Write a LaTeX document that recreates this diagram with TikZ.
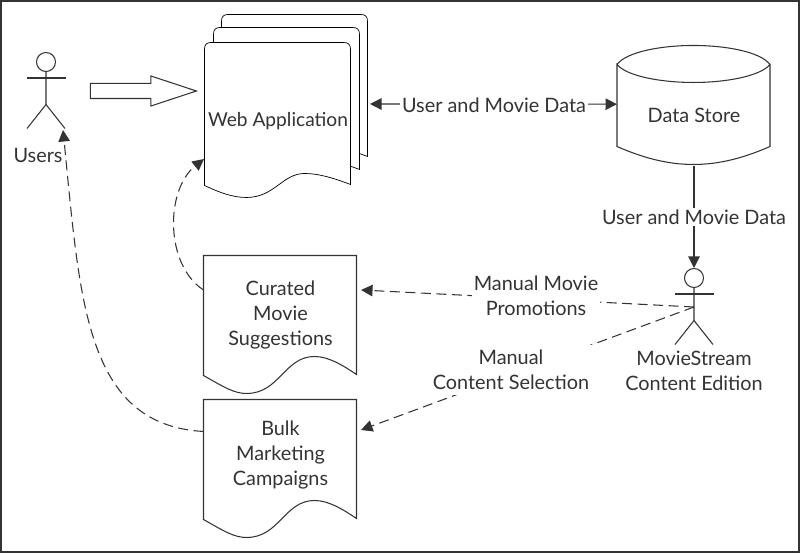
\documentclass[tikz,border=0pt]{standalone}
\usepackage{fontspec}
\setmainfont{Lato}
\usetikzlibrary{arrows.meta, shapes.arrows, backgrounds}
\definecolor{cink}{HTML}{333333}
\tikzset{
  every picture/.style={x=0.02cm, y=-0.02cm, line width=0.6pt, cink, font=\fontsize{11.3}{14.2}\selectfont},
  page/.style={align=center, text=cink, inner sep=0pt, minimum width=3.06cm},
  store/.style={align=center, text=cink, inner sep=0pt, minimum width=3.06cm, minimum height=2cm},
  actor/.style={draw=cink, circle, minimum size=0.38cm, inner sep=0pt},
  flow/.style={-{Triangle[length=0.23cm, width=0.23cm]}, draw=cink},
  dashflow/.style={flow, dash pattern=on 0.2cm off 0.11cm},
  note/.style={align=center, text=cink, fill=white, inner sep=1pt},
  enter/.style={draw=cink, fill=white, single arrow, single arrow head extend=0.15cm, single arrow tip angle=36.5, single arrow head indent=0pt, minimum height=2.12cm, minimum width=0.58cm, inner xsep=0pt, inner ysep=0.14cm},
}

\begin{document}
\begin{tikzpicture}
  \useasboundingbox (0,0) rectangle (800,553);
  \draw[line width=1pt] (1,1) rectangle (799,552);

  % documents
  \node[page, minimum width=2.92cm, minimum height=3.12cm, font=\fontsize{10.9}{14.2}\selectfont] (web) at (278,121) {Web Application};
  \node[page, minimum height=2.36cm] (curated) at (280.5,315) {Curated\\Movie\\Suggestions};
  \node[page, minimum height=2.2cm] (bulk) at (280.5,455) {Bulk\\Marketing\\Campaigns};
  \begin{scope}[on background layer]
    \foreach \dx/\dy in {17/-28, 9/-15, 0/0}
      \draw[fill=white, shift={(web.north west)}, shift={(\dx,\dy)}] (0,143) -- (0,7) .. controls (0,2) and (2,0) .. (7,0) -- (139,0) .. controls (144,0) and (146,2) .. (146,7) -- (146,142) .. controls (130,136) and (115,131) .. (100,131) .. controls (78,131) and (70,155) .. (42,155) .. controls (28,155) and (15,150) .. (0,143) -- cycle;
  \end{scope}
  \foreach \n in {curated, bulk}
    \draw[shift={(\n.north west)}] (0,0) -- (153,0) -- (153,119) .. controls (141,111) and (126,101) .. (111,101) .. controls (81,101) and (76,138) .. (43,138) .. controls (31,138) and (21,132) .. (0,120) -- cycle;

  % data store
  \node[store] (data) at (694,115) {Data Store};
  \draw[shift={(data.north west)}] (0,0) .. controls (10,-13) and (45,-19) .. (76.5,-19) .. controls (108,-19) and (143,-13) .. (153,0) .. controls (143,12) and (108,18) .. (76.5,18) .. controls (45,18) and (10,12) .. (0,0) -- (0,82) .. controls (25,93) and (50,100) .. (76.5,100) .. controls (103,100) and (128,93) .. (153,82) -- (153,0);

  % actors
  \node[actor] (users) at (46,62) {};
  \node[actor] (editor) at (694,278) {};
  \foreach \n in {users, editor} {
    \draw (\n.south) -- ++(0,32.5) -- ++(-19,24);
    \draw (\n.south) ++(0,32.5) -- ++(19,24);
    \draw (\n.south) ++(-19.5,6) -- ++(39,0);
  }
  \node[text=cink] (userstext) at (38,155) {Users};
  \node[align=center, text=cink] (editortext) at (694,370.5) {MovieStream\\Content Edition};

  \node[enter] (entry) at (132,91) {};

  % connectors
  \coordinate (webedge) at (370,104);
  \coordinate (usersfoot) at (63,130);
  \coordinate (editorwaist) at (694,307);
  \draw[flow, {Triangle[length=0.23cm, width=0.23cm]}-{Triangle[length=0.23cm, width=0.23cm]}] (webedge) -- (data.172);
  \draw[flow] (data.south) -- (editor.north);
  \draw[dashflow] (editorwaist) -- ([xshift=2]curated.18);
  \draw[dashflow] (editorwaist) -- ([xshift=2]bulk.18);
  \draw[dashflow] (curated.162.6) .. controls (165,265) and (165,190) .. (204,159);
  \draw[dashflow] (bulk.163) .. controls (85,425) and (80,300) .. (usersfoot);

  \node[note] (storeflow) at (494,105) {User and Movie Data};
  \node[note] (editorflow) at (694,217) {User and Movie Data};
  \node[note] (promo) at (536,295.5) {Manual Movie\\Promotions};
  \node[note, inner sep=3pt] (select) at (511,370) {Manual\\Content Selection};
\end{tikzpicture}
\end{document}
